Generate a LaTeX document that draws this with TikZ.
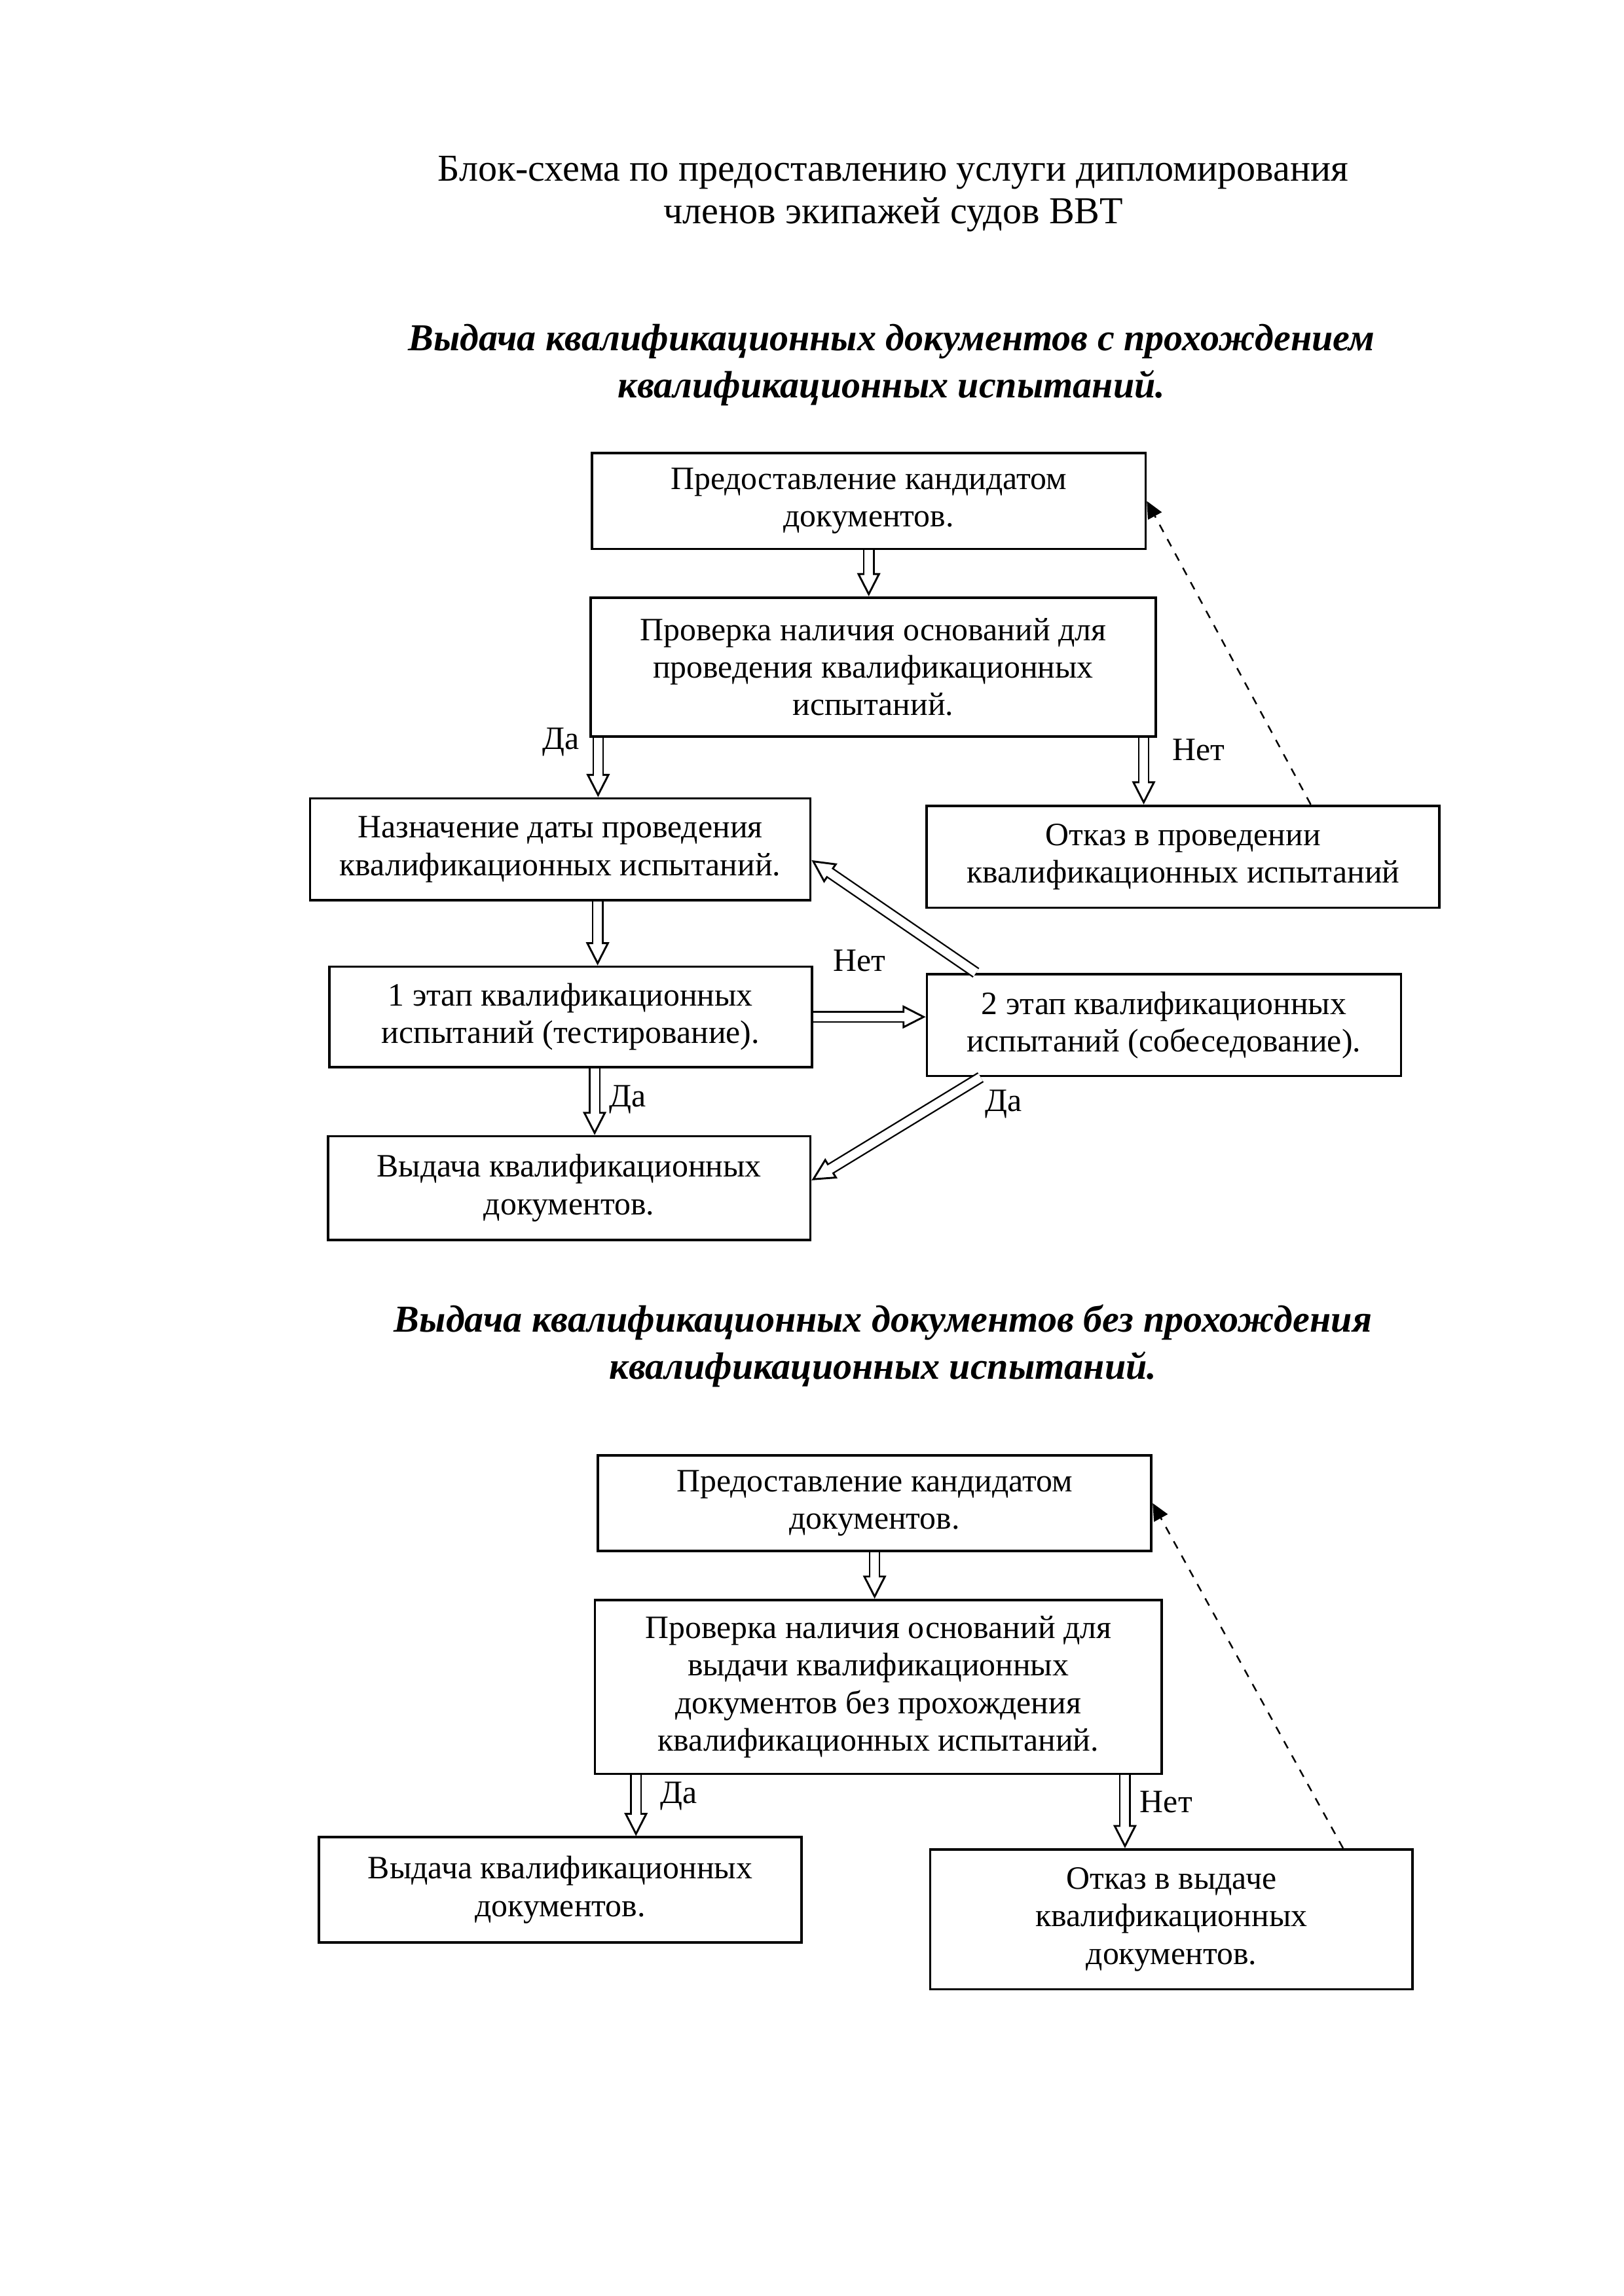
\documentclass[tikz,border=0pt]{standalone}
\usepackage{fontspec}
\setmainfont{Liberation Serif}
\usetikzlibrary{arrows.meta}
\begin{document}
\begin{tikzpicture}[
    box/.style={draw, line width=0.9pt, align=center, inner sep=0pt,
        font=\fontsize{12}{13.8}\selectfont}, % Стиль для блоков
    blockarrow/.style={draw, line width=1.5mm,
        -{Triangle[open, length=3mm, width=3mm, line width=0.7pt]},
        postaction={draw=white, line width=1.1mm, shorten >=2.6mm, -}}, % Стиль для двойных стрелок
    dasharrow/.style={draw, dashed, line width=0.6pt,
        -{Triangle[length=2.2mm, width=2mm]}}, % Стиль для пунктирных стрелок
    answer/.style={font=\fontsize{12}{13.8}\selectfont}, % Стиль для подписей Да/Нет
    headtext/.style={align=center, font=\fontsize{14}{15.7}\selectfont}, % Стиль для заголовка
    subhead/.style={align=center, font=\fontsize{14}{17.4}\selectfont\bfseries\itshape} % Стиль для подзаголовков
]
    \useasboundingbox (0,0) rectangle (21,-29.7);

    % Заголовок
    \node[headtext] (title) at (11.55, -2.51) {Блок-схема по предоставлению услуги дипломирования\\членов экипажей судов ВВТ};

    % Первая схема (с прохождением испытаний)
    \begin{scope}
        \node[subhead] (head1) at (11.53, -4.72) {Выдача квалификационных документов с прохождением\\квалификационных испытаний.};

        % Блоки
        \node[box, minimum width=7.16cm, minimum height=1.24cm] (A1) at (11.235, -6.481) {Предоставление кандидатом\\документов.};
        \node[box, minimum width=7.31cm, minimum height=1.80cm] (A2) at (11.292, -8.629) {Проверка наличия оснований для\\проведения квалификационных\\испытаний.};
        \node[box, minimum width=6.47cm, minimum height=1.32cm] (A3) at (7.245, -10.987) {Назначение даты проведения\\квалификационных испытаний.};
        \node[box, minimum width=6.63cm, minimum height=1.32cm] (A4) at (15.301, -11.082) {Отказ в проведении\\квалификационных испытаний};
        \node[box, minimum width=6.24cm, minimum height=1.30cm] (A5) at (7.379, -13.154) {1 этап квалификационных\\испытаний (тестирование).};
        \node[box, minimum width=6.13cm, minimum height=1.32cm] (A6) at (15.053, -13.259) {2 этап квалификационных\\испытаний (собеседование).};
        \node[box, minimum width=6.24cm, minimum height=1.34cm] (A7) at (7.360, -15.368) {Выдача квалификационных\\документов.};

        % Подписи
        \node[answer] (da1) at (7.254, -9.603) {Да};
        \node[answer] (net1) at (15.502, -9.698) {Нет};
        \node[answer] (net2) at (11.111, -12.428) {Нет};
        \node[answer] (da2) at (8.114, -14.223) {Да};
        \node[answer] (da3) at (12.982, -14.280) {Да};

        % Точки входа стрелок
        \coordinate (a3in) at ([xshift=0.49cm]A3.north);
        \coordinate (a4in) at ([xshift=-0.51cm]A4.north);
        \coordinate (a5in) at ([xshift=0.35cm]A5.north);
        \coordinate (a7in) at ([xshift=0.33cm]A7.north);

        % Стрелки
        \draw[blockarrow] (A1.south) -- (A1.south |- A2.north);
        \draw[blockarrow] (a3in |- A2.south) -- (a3in);
        \draw[blockarrow] (a4in |- A2.south) -- (a4in);
        \draw[dasharrow] ([xshift=1.65cm]A4.north) -- (A1.east);
        \draw[blockarrow] (a5in |- A3.south) -- (a5in);
        \draw[blockarrow] (A5.east) -- (A5.east -| A6.west);
        \draw[blockarrow] ([xshift=0.65cm]A6.north west) -- ([yshift=-0.14cm]A3.east);
        \draw[blockarrow] (a7in |- A5.south) -- (a7in);
        \draw[blockarrow] ([xshift=0.71cm]A6.south west) -- ([yshift=0.1cm]A7.east);
    \end{scope}

    % Вторая схема (без прохождения испытаний)
    \begin{scope}
        \node[subhead] (head2) at (11.42, -17.41) {Выдача квалификационных документов без прохождения\\квалификационных испытаний.};

        % Блоки
        \node[box, minimum width=7.16cm, minimum height=1.24cm] (B1) at (11.311, -19.444) {Предоставление кандидатом\\документов.};
        \node[box, minimum width=7.33cm, minimum height=2.25cm] (B2) at (11.359, -21.821) {Проверка наличия оснований для\\выдачи квалификационных\\документов без прохождения\\квалификационных испытаний.};
        \node[box, minimum width=6.24cm, minimum height=1.36cm] (B3) at (7.245, -24.446) {Выдача квалификационных\\документов.};
        \node[box, minimum width=6.24cm, minimum height=1.81cm] (B4) at (15.149, -24.828) {Отказ в выдаче\\квалификационных\\документов.};

        % Подписи
        \node[answer] (da4) at (8.782, -23.234) {Да};
        \node[answer] (net3) at (15.082, -23.310) {Нет};

        % Точки входа стрелок
        \coordinate (b3in) at ([xshift=0.98cm]B3.north);
        \coordinate (b4in) at ([xshift=-0.60cm]B4.north);

        % Стрелки
        \draw[blockarrow] (B1.south) -- (B1.south |- B2.north);
        \draw[blockarrow] (b3in |- B2.south) -- (b3in);
        \draw[blockarrow] (b4in |- B2.south) -- (b4in);
        \draw[dasharrow] ([xshift=2.22cm]B4.north) -- (B1.east);
    \end{scope}

\end{tikzpicture}
\end{document}
